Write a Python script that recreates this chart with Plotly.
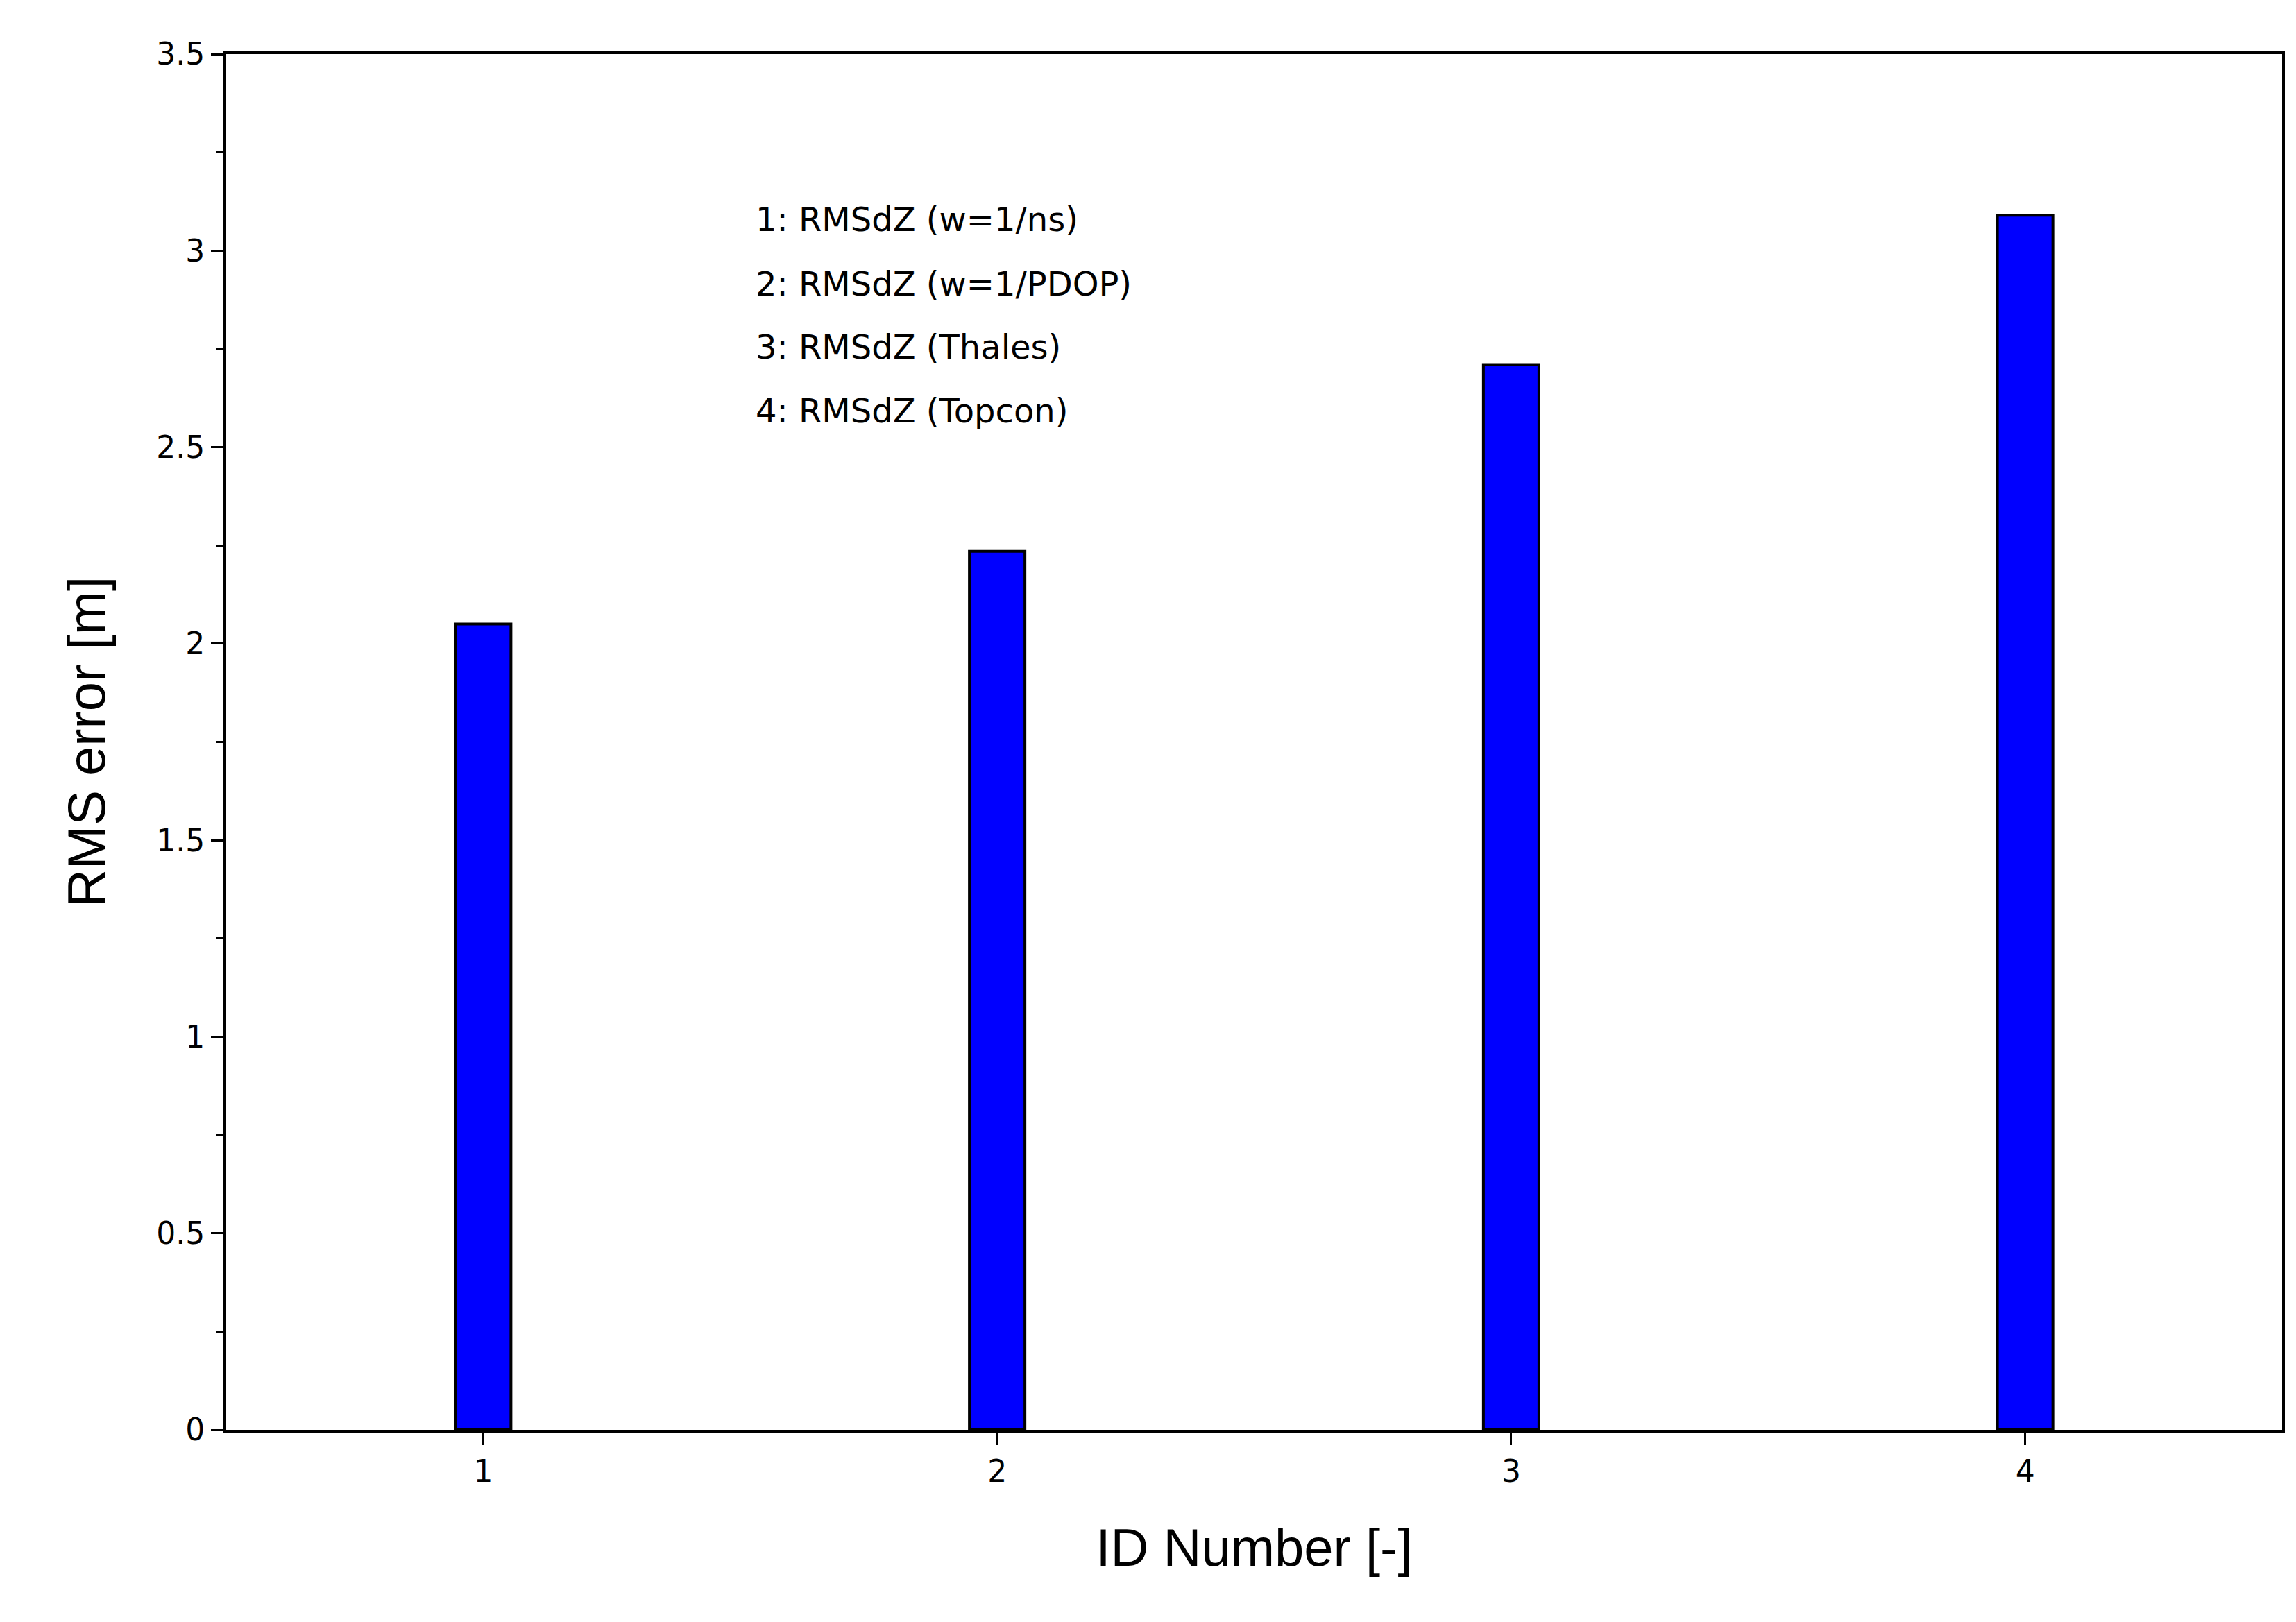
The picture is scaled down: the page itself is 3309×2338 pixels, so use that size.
import plotly.graph_objects as go

ids = [1, 2, 3, 4]
rms_error = [2.05, 2.235, 2.71, 3.09]
legend_lines = ["1: RMSdZ (w=1/ns)", "2: RMSdZ (w=1/PDOP)", "3: RMSdZ (Thales)", "4: RMSdZ (Topcon)"]
legend_y = [0.880, 0.833, 0.787, 0.741]
y_ticks = [0, 0.5, 1, 1.5, 2, 2.5, 3, 3.5]
y_tick_text = ["0", "0.5", "1", "1.5", "2", "2.5", "3", "3.5"]

fig = go.Figure()
fig.add_trace(go.Bar(x=ids, y=rms_error, width=0.108,
                     marker=dict(color="#0000ff", line=dict(color="black", width=4))))

for txt, yy in zip(legend_lines, legend_y):
    fig.add_annotation(text=txt, xref="paper", yref="paper",
                       x=0.257, y=yy, xanchor="left", yanchor="middle",
                       showarrow=False, font=dict(family="DejaVu Sans", size=48, color="black"))

axis_common = dict(showline=True, linecolor="black", linewidth=4, mirror=True,
                   showgrid=False, zeroline=False, ticks="outside", tickcolor="black",
                   tickwidth=3, ticklen=18, tickfont=dict(family="DejaVu Sans", size=44, color="black"))

fig.update_xaxes(range=[0.5, 4.5], tickvals=ids, title_text="ID Number [-]",
                 title_font=dict(family="Liberation Sans", size=76, color="black"),
                 title_standoff=60, **axis_common)
fig.update_yaxes(range=[0, 3.5], tickvals=y_ticks, ticktext=y_tick_text,
                 minor=dict(dtick=0.25, ticks="outside", ticklen=10, tickcolor="black", tickwidth=3),
                 title_text="RMS error [m]",
                 title_font=dict(family="Liberation Sans", size=76, color="black"),
                 title_standoff=50, **axis_common)

fig.update_layout(width=3309, height=2338, plot_bgcolor="white", paper_bgcolor="white",
                  showlegend=False, margin=dict(l=318, r=28, t=70, b=285))

fig.write_html("out.html")
